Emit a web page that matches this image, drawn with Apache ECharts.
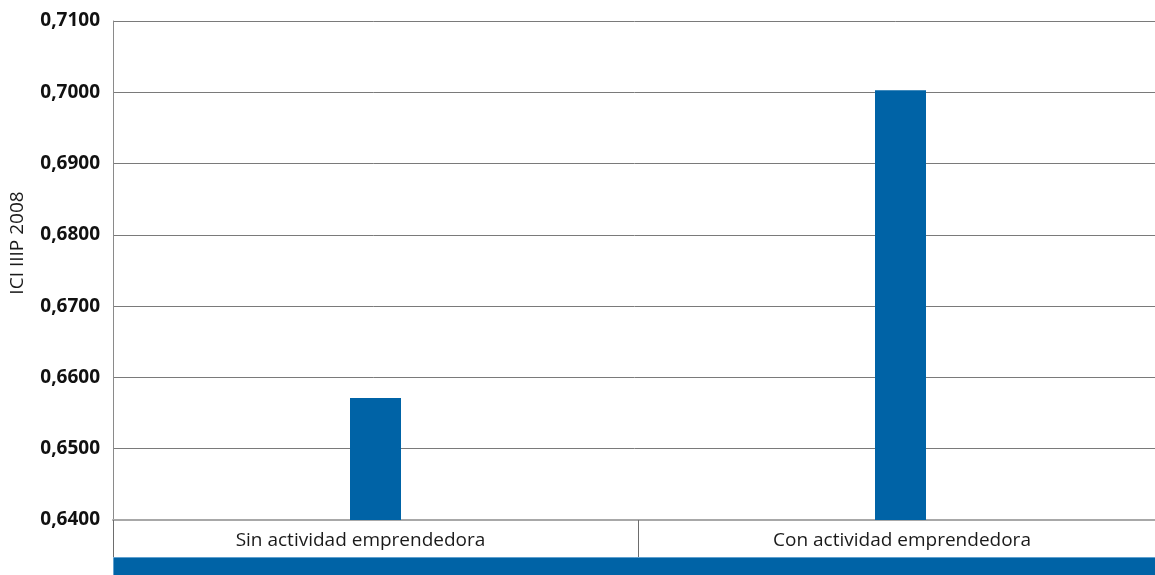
<!DOCTYPE html>
<html>
<head>
<meta charset="utf-8">
<script src="https://cdn.jsdelivr.net/npm/echarts@6/dist/echarts.min.js"></script>
<style>
  html, body { margin: 0; padding: 0; background: #fff; }
  #chart { width: 1155px; height: 575px; }
</style>
</head>
<body>
<div id="chart"></div>
<script>
// Índice ICI IIIP 2008 según actividad emprendedora
const categories = ['Sin actividad emprendedora', 'Con actividad emprendedora'];
const iciValues = [0.6571, 0.7003];
const yMin = 0.64;
const yMax = 0.71;
const yStep = 0.01;

const chart = echarts.init(document.getElementById('chart'));
const blue = '#0063a6';

chart.setOption({
  animation: false,
  grid: { left: 113, right: -8, top: 21, bottom: 55, outerBoundsMode: 'none', containLabel: false },
  xAxis: {
    type: 'category',
    data: categories,
    boundaryGap: true,
    axisLine: { show: true, lineStyle: { color: '#a8a8a8', width: 2 } },
    axisTick: { show: true, length: 37, alignWithLabel: false, lineStyle: { color: '#6d6d6d', width: 1 } },
    axisLabel: {
      margin: 11,
      formatter: (v, i) => (i === 0 ? '{a|' + v + '}' : '{b|' + v + '}'),
      rich: {
        a: { fontFamily: 'Open Sans', fontSize: 19, color: '#1a1a1a', padding: [0, 30, 0, 0] },
        b: { fontFamily: 'Open Sans', fontSize: 19, color: '#1a1a1a', padding: [0, 0, 0, 3] }
      }
    }
  },
  yAxis: {
    type: 'value',
    min: yMin,
    max: yMax,
    interval: yStep,
    name: 'ICI IIIP 2008',
    nameLocation: 'middle',
    nameRotate: 90,
    nameGap: 86,
    nameTextStyle: { fontFamily: 'Open Sans', fontSize: 19, color: '#1a1a1a', padding: [0, 0, 0, 55] },
    axisLine: { show: true, lineStyle: { color: '#8a8a8a', width: 1 } },
    axisTick: { show: false },
    splitLine: { show: true, lineStyle: { color: '#7a7a7a', width: 1 } },
    axisLabel: {
      fontFamily: 'Open Sans',
      fontWeight: 'bold',
      fontSize: 19,
      color: '#111',
      margin: 13,
      formatter: v => v.toFixed(4).replace('.', ',')
    }
  },
  series: [{
    type: 'bar',
    data: iciValues,
    barWidth: 51,
    itemStyle: { color: blue }
  }],
  graphic: [{
    type: 'rect',
    left: 113,
    top: 557,
    shape: { width: 1042, height: 18 },
    style: { fill: blue, stroke: '#5fa0cf', lineWidth: 1 },
    z: 10
  }]
});
</script>
</body>
</html>
